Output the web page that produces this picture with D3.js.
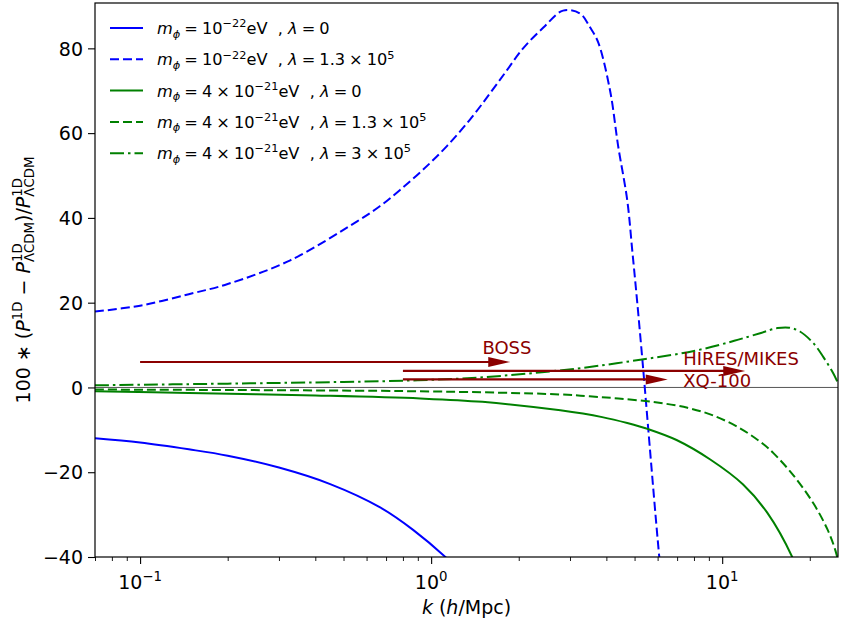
<!DOCTYPE html>
<html>
<head>
<meta charset="utf-8">
<script src="https://cdn.jsdelivr.net/npm/d3@7/dist/d3.min.js"></script>
<style>
body { margin: 0; background: #fff; }
svg text { font-family: "DejaVu Sans", sans-serif; white-space: pre; }
</style>
</head>
<body>
<div id="chart"></div>
<script>
// values, k in h/Mpc
var kBlueSolid = [0.07, 0.1, 0.147, 0.2, 0.3, 0.45, 0.668, 0.867, 1.14, 1.3];
var blueSolid  = [-12.0, -13.0, -14.6, -16.1, -18.9, -22.8, -28.3, -33.6, -40.5, -44.5];

var kBlueDashed = [0.07, 0.1, 0.147, 0.2, 0.328, 0.557, 0.668, 0.782, 0.939, 1.135, 1.36, 1.59, 1.82, 2.07, 2.43, 2.84,
                   3.25, 3.52, 3.75, 4.12, 4.39, 4.72, 4.91, 5.1, 5.31, 5.42, 6.08, 6.3];
var blueDashed  = [17.9, 19.3, 22.0, 24.4, 30.0, 39.2, 42.8, 46.6, 51.4, 57.0, 63.2, 69.3, 74.8, 80.0, 84.9, 88.9,
                   88.2, 84.9, 81.4, 70.0, 57.0, 44.1, 32.3, 20.5, 7.1, 0, -40, -50];

var kGreenSolid = [0.07, 0.147, 0.4, 0.917, 1.5, 2.78, 3.87, 4.72, 5.61, 6.97, 9.1, 11.8, 14.3, 17.4, 19];
var greenSolid  = [-0.9, -1.3, -1.9, -2.6, -3.4, -5.4, -7.0, -8.4, -9.9, -12.4, -17.0, -22.9, -29.6, -40, -47];

var kGreenDashed = [0.07, 0.9, 2.78, 3.5, 4.4, 5.9, 7.6, 9.3, 11.5, 13.8, 15.0, 17.6, 20.6, 23, 24.5, 26];
var greenDashed  = [-0.5, -0.9, -1.65, -2.1, -2.6, -3.5, -4.8, -6.6, -9.6, -13.3, -15.5, -20.8, -27.4, -33.5, -38.5, -46];

var kGreenDashDot = [0.07, 0.2, 0.5, 0.9, 1.5, 2.4, 3.3, 5.3, 8.0, 11.0, 13.5, 15.5, 17.0, 18.5, 20.6, 22.3, 24.1, 25.2];
var greenDashDot  = [0.5, 0.9, 1.3, 1.7, 2.4, 3.6, 4.6, 6.6, 8.6, 11.0, 12.8, 14.0, 14.1, 13.2, 10.4, 7.1, 3.3, 0.5];

// survey ranges drawn as arrows
var surveys   = ['BOSS', 'HIRES/MIKES', 'XQ-100'];
var surveyK0  = [0.1, 0.8, 0.8];
var surveyK1  = [1.87, 12.0, 6.5];
var surveyVal = [6, 3.9, 1.9];
var surveyLabelK = [1.5, 7.35, 7.35];
var surveyLabelV = [7.8, 5.2, 0.0];

var yTicks = [-40, -20, 0, 20, 40, 60, 80];
var xTicks = [0.1, 1, 10];
var xTickExp = ['\u22121', '0', '1'];

// legend labels, split into pieces for italic / sub / sup
var sp = '\u2005';
var legendLabels = [
    [{t: 'm', it: 1}, {sub: '\u03d5'}, {t: sp + '=' + sp + '10'}, {sup: '\u221222'}, {t: 'eV  , '}, {t: '\u03bb', it: 1}, {t: sp + '=' + sp + '0'}],
    [{t: 'm', it: 1}, {sub: '\u03d5'}, {t: sp + '=' + sp + '10'}, {sup: '\u221222'}, {t: 'eV  , '}, {t: '\u03bb', it: 1}, {t: sp + '=' + sp + '1.3' + sp + '\u00d7' + sp + '10'}, {sup: '5'}],
    [{t: 'm', it: 1}, {sub: '\u03d5'}, {t: sp + '=' + sp + '4' + sp + '\u00d7' + sp + '10'}, {sup: '\u221221'}, {t: 'eV  , '}, {t: '\u03bb', it: 1}, {t: sp + '=' + sp + '0'}],
    [{t: 'm', it: 1}, {sub: '\u03d5'}, {t: sp + '=' + sp + '4' + sp + '\u00d7' + sp + '10'}, {sup: '\u221221'}, {t: 'eV  , '}, {t: '\u03bb', it: 1}, {t: sp + '=' + sp + '1.3' + sp + '\u00d7' + sp + '10'}, {sup: '5'}],
    [{t: 'm', it: 1}, {sub: '\u03d5'}, {t: sp + '=' + sp + '4' + sp + '\u00d7' + sp + '10'}, {sup: '\u221221'}, {t: 'eV  , '}, {t: '\u03bb', it: 1}, {t: sp + '=' + sp + '3' + sp + '\u00d7' + sp + '10'}, {sup: '5'}]
];

var series = [
    {k: kBlueSolid, v: blueSolid, color: '#0000ff', dash: null},
    {k: kBlueDashed, v: blueDashed, color: '#0000ff', dash: '9,4'},
    {k: kGreenSolid, v: greenSolid, color: '#008000', dash: null},
    {k: kGreenDashed, v: greenDashed, color: '#008000', dash: '9,4'},
    {k: kGreenDashDot, v: greenDashDot, color: '#008000', dash: '14,4,2.5,4'}
];

var svgWidth = 843, svgHeight = 626;
var margin = {top: 3, right: 5, bottom: 69, left: 95};
var width = svgWidth - margin.left - margin.right;
var height = svgHeight - margin.top - margin.bottom;

var svg = d3.select('#chart').append('svg')
    .attr('width', svgWidth).attr('height', svgHeight);

var g = svg.append('g')
    .attr('transform', 'translate(' + margin.left + ',' + margin.top + ')');

var x = d3.scaleLog().domain([0.07, 25.0]).range([0, width]);
var y = d3.scaleLinear().domain([-40, 90.7]).range([height, 0]);

svg.append('defs').append('clipPath').attr('id', 'clip')
    .append('rect').attr('width', width).attr('height', height);

// writes a small math-like label, returns its width
function mathText(sel, parts, size) {
    var cx = 0;
    parts.forEach(function(p) {
        if (p.sup !== undefined || p.sub !== undefined) {
            var w = 0;
            if (p.sup !== undefined) {
                var ts = sel.append('text').attr('x', cx).attr('y', -size * 0.42)
                    .style('font-size', (size * 0.7) + 'px').text(p.sup);
                w = Math.max(w, ts.node().getComputedTextLength());
            }
            if (p.sub !== undefined) {
                var tb = sel.append('text').attr('x', cx).attr('y', size * 0.22)
                    .style('font-size', (size * 0.7) + 'px')
                    .style('font-style', p.sub == '\u03d5' ? 'italic' : null).text(p.sub);
                w = Math.max(w, tb.node().getComputedTextLength());
            }
            cx += w;
        } else {
            var t = sel.append('text').attr('x', cx).attr('y', 0)
                .style('font-size', size + 'px')
                .style('font-style', p.it ? 'italic' : null).text(p.t);
            cx += t.node().getComputedTextLength();
        }
    });
    return cx;
}

// zero line
g.append('line')
    .attr('x1', 0).attr('x2', width)
    .attr('y1', y(0)).attr('y2', y(0))
    .attr('stroke', '#555').attr('stroke-width', 1);

// curves
var line = d3.line()
    .x(function(d) { return x(d[0]); })
    .y(function(d) { return y(d[1]); })
    .curve(d3.curveCatmullRom.alpha(0.5));

var curves = g.append('g').attr('clip-path', 'url(#clip)');
series.forEach(function(s) {
    curves.append('path')
        .datum(d3.zip(s.k, s.v))
        .attr('d', line)
        .attr('fill', 'none')
        .attr('stroke', s.color)
        .attr('stroke-width', 2)
        .attr('stroke-dasharray', s.dash);
});

// survey arrows
var red = '#8b0000';
surveys.forEach(function(name, i) {
    var yy = y(surveyVal[i]);
    var x0 = x(surveyK0[i]), x1 = x(surveyK1[i]);
    g.append('line')
        .attr('x1', x0).attr('x2', x1 - 18)
        .attr('y1', yy).attr('y2', yy)
        .attr('stroke', red).attr('stroke-width', 2.2);
    g.append('path')
        .attr('d', 'M' + x1 + ',' + yy + 'L' + (x1 - 22) + ',' + (yy - 5) + 'L' + (x1 - 22) + ',' + (yy + 5) + 'Z')
        .attr('fill', red);
    g.append('text')
        .attr('x', x(surveyLabelK[i])).attr('y', y(surveyLabelV[i]))
        .style('font-size', '18px').attr('fill', red)
        .text(name);
});

// frame
g.append('rect')
    .attr('width', width).attr('height', height)
    .attr('fill', 'none').attr('stroke', '#000').attr('stroke-width', 1.2);

// y axis
var yAxis = g.append('g').attr('class', 'y axis')
    .call(d3.axisLeft(y).tickValues(yTicks).tickSize(7).tickPadding(5)
        .tickFormat(function(d) { return d < 0 ? '\u2212' + (-d) : d; }));
yAxis.select('.domain').remove();
yAxis.selectAll('text').style('font-size', '19px').attr('fill', '#000').attr('dy', '0.35em');
yAxis.selectAll('line').attr('stroke', '#000').attr('stroke-width', 1.1);

// x axis, minor ticks first
var minors = [];
[0.01, 0.1, 1, 10].forEach(function(dec) {
    for (var m = 2; m <= 9; m++) {
        var v = m * dec;
        if (v >= 0.07 && v <= 25) minors.push(v);
    }
});
var xMinor = g.append('g').attr('transform', 'translate(0,' + height + ')')
    .call(d3.axisBottom(x).tickValues(minors).tickSize(4).tickFormat(''));
xMinor.select('.domain').remove();
xMinor.selectAll('line').attr('stroke', '#000').attr('stroke-width', 0.9);

var xAxis = g.append('g').attr('class', 'x axis').attr('transform', 'translate(0,' + height + ')')
    .call(d3.axisBottom(x).tickValues(xTicks).tickSize(7).tickFormat(''));
xAxis.select('.domain').remove();
xAxis.selectAll('line').attr('stroke', '#000').attr('stroke-width', 1.1);

xTicks.forEach(function(t, i) {
    var lg = g.append('g');
    var w = mathText(lg, [{t: '10'}, {sup: xTickExp[i]}], 19);
    lg.attr('transform', 'translate(' + (x(t) - w / 2) + ',' + (height + 32) + ')');
});

// axis labels
var xl = svg.append('g');
var xw = mathText(xl, [{t: 'k', it: 1}, {t: ' ('}, {t: 'h', it: 1}, {t: '/Mpc)'}], 19);
xl.attr('transform', 'translate(' + (margin.left + width / 2 - xw / 2) + ',' + 614 + ')');

var yl = svg.append('g');
var ylInner = yl.append('g');
var yw = mathText(ylInner, [
    {t: '100 \u2217 ('}, {t: 'P', it: 1}, {sup: '1D'}, {t: ' \u2212 '},
    {t: 'P', it: 1}, {sup: '1D', sub: '\u039bCDM'}, {t: ')/'},
    {t: 'P', it: 1}, {sup: '1D', sub: '\u039bCDM'}
], 19);
ylInner.attr('transform', 'translate(' + (-yw / 2) + ',0)');
yl.attr('transform', 'translate(30,' + (margin.top + height / 2) + ') rotate(-90)');

// legend
var legend = svg.append('g');
legendLabels.forEach(function(parts, i) {
    var ly = 28 + i * 31.3;
    legend.append('line')
        .attr('x1', 110).attr('x2', 143)
        .attr('y1', ly).attr('y2', ly)
        .attr('stroke', series[i].color).attr('stroke-width', 2)
        .attr('stroke-dasharray', series[i].dash);
    var lt = legend.append('g').attr('transform', 'translate(157,' + (ly + 6) + ')');
    mathText(lt, parts, 16.2);
});
</script>
</body>
</html>
